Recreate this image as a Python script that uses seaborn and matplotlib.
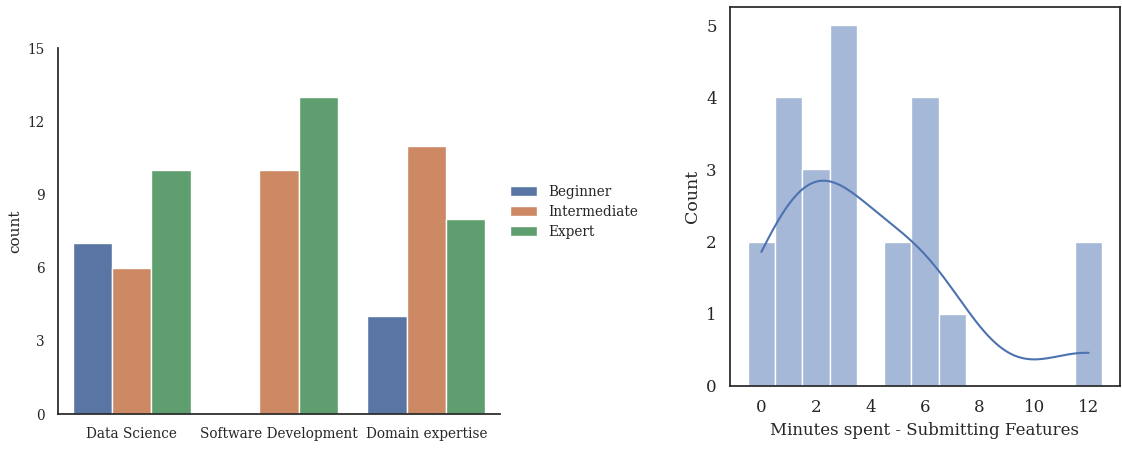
import matplotlib
matplotlib.use("Agg")
import matplotlib.pyplot as plt
import pandas as pd
import seaborn as sns

# Left chart: counts per role and experience level
roles = ["Data Science", "Software Development", "Domain expertise"]
levels = ["Beginner", "Intermediate", "Expert"]
beginner = [7, 0, 4]
intermediate = [6, 10, 11]
expert = [10, 13, 8]

# Right chart: raw minutes spent submitting features
minutes = [0, 0, 1, 1, 1, 1, 2, 2, 2, 3, 3, 3, 3, 3,
           5, 5, 6, 6, 6, 6, 7, 12, 12]

sns.set_theme(style="white", font="serif")
plt.rcParams['font.family'] = ['DejaVu Serif']

df_count = pd.DataFrame({
    "role": roles * 3,
    "level": [lv for lv in levels for _ in roles],
    "count": beginner + intermediate + expert,
})
df_min = pd.DataFrame({"minutes": minutes})

fig = plt.figure(figsize=(11.22, 4.49), dpi=100)
ax1 = fig.add_axes([58 / 1122, 1 - 414 / 449, 442 / 1122, 366 / 449])
ax2 = fig.add_axes([730 / 1122, 1 - 386 / 449, 390 / 1122, 379 / 449])

sns.barplot(ax=ax1, data=df_count, x="role", y="count", hue="level",
            order=roles, hue_order=levels, saturation=0.75)
sns.despine(ax=ax1)
ax1.set_xlabel("")
ax1.set_ylabel("count", fontsize=11)
ax1.set_ylim(0, 15)
ax1.set_yticks([0, 3, 6, 9, 12, 15])
ax1.tick_params(labelsize=9.8)
ax1.legend(loc="upper left", bbox_to_anchor=(0.995, 0.66), frameon=False,
           fontsize=9.8, labelspacing=0.45)

sns.histplot(ax=ax2, data=df_min, x="minutes", discrete=True, kde=True,
             alpha=0.5, edgecolor="white")
ax2.set_xlabel("Minutes spent - Submitting Features", fontsize=12)
ax2.set_ylabel("Count", fontsize=12.5)
ax2.set_xticks([0, 2, 4, 6, 8, 10, 12])
ax2.tick_params(labelsize=12)

fig.savefig("out.png", dpi=100)
